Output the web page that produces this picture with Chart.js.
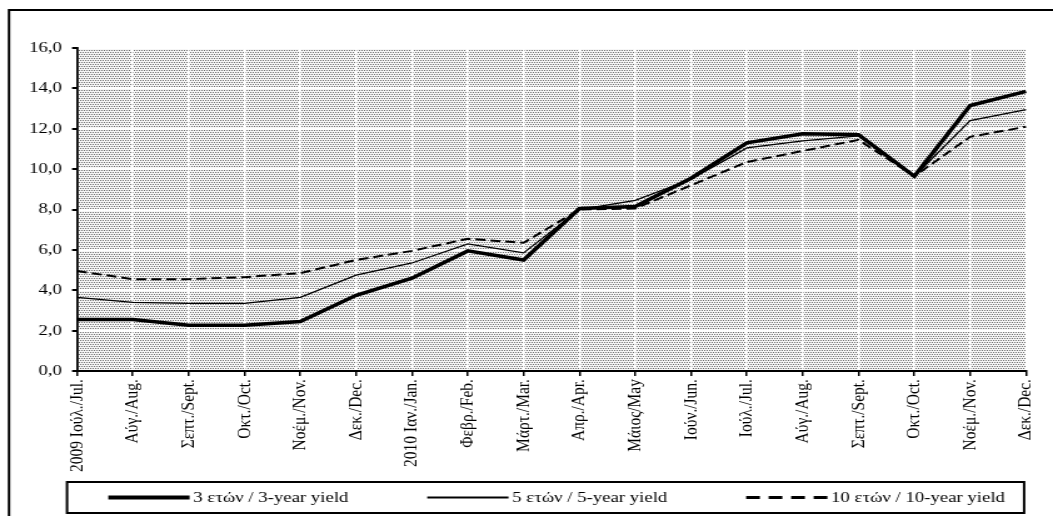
<!DOCTYPE html>
<html>
<head>
<meta charset="utf-8">
<script src="https://cdn.jsdelivr.net/npm/chart.js@4.4.1/dist/chart.umd.min.js"></script>
<style>
    body { margin: 0; background: #fff; }
    #wrap { position: relative; width: 1053px; height: 516px; }
    /* canvas is drawn narrower and stretched, like the original export */
    #myChartCanvas1 { position: absolute; left: 0; top: 0; }
</style>
</head>
<body>
<div id="wrap">
    <canvas id="myChartCanvas1" width="842" height="516" style="width:1053px;height:516px"></canvas>
</div>
<script>
const meses = [
    '2009 Ιούλ./Jul.', 'Αύγ./Aug.', 'Σεπτ./Sept.', 'Οκτ./Oct.', 'Νοέμ./Nov.', 'Δεκ./Dec.',
    '2010 Ιαν./Jan.', 'Φεβρ./Feb.', 'Μάρτ./Mar.', 'Απρ./Apr.', 'Μάιος/May', 'Ιούν./Jun.',
    'Ιούλ./Jul.', 'Αύγ./Aug.', 'Σεπτ./Sept.', 'Οκτ./Oct.', 'Νοέμ./Nov.', 'Δεκ./Dec.'
];

const yield3 = [2.55, 2.55, 2.27, 2.27, 2.45, 3.75, 4.6, 5.95, 5.5, 8.05, 8.15, 9.55, 11.3, 11.75, 11.7, 9.65, 13.15, 13.85];
const yield5 = [3.65, 3.4, 3.35, 3.35, 3.65, 4.75, 5.35, 6.3, 5.85, 8.0, 8.45, 9.5, 11.05, 11.4, 11.65, 9.65, 12.4, 12.95];
const yield10 = [4.95, 4.55, 4.55, 4.65, 4.85, 5.5, 5.95, 6.55, 6.35, 8.0, 8.05, 9.2, 10.35, 10.9, 11.45, 9.65, 11.6, 12.1];

const nomes = ['3 ετών / 3-year yield', '5 ετών / 5-year yield', '10 ετών / 10-year yield'];

const yMin = 0;
const yMax = 16;
const yStep = 2;

const fonte = '"Liberation Serif", "Times New Roman", serif';

function criarPadrao() {
    // fundo pontilhado cinza da área do gráfico
    const c = document.createElement('canvas');
    c.width = 4;
    c.height = 4;
    const g = c.getContext('2d');
    g.fillStyle = '#f6f6f6';
    g.fillRect(0, 0, 4, 4);
    g.fillStyle = '#6e6e6e';
    g.fillRect(0, 0, 1, 1);
    g.fillRect(2, 0, 1, 1);
    g.fillRect(1, 2, 1, 1);
    g.fillRect(3, 2, 1, 1);
    return c;
}

const fundoPlugin = {
    id: 'fundo',
    beforeDraw(chart) {
        const ctx = chart.ctx;
        const a = chart.chartArea;
        ctx.save();
        ctx.fillStyle = ctx.createPattern(criarPadrao(), 'repeat');
        ctx.fillRect(a.left, a.top, a.right - a.left, a.bottom - a.top);
        // moldura externa (só topo e esquerda aparecem)
        ctx.strokeStyle = '#000';
        ctx.lineWidth = 2;
        ctx.beginPath();
        ctx.moveTo(chart.width, 10);
        ctx.lineTo(7.2, 10);
        ctx.lineTo(7.2, chart.height);
        ctx.stroke();
        ctx.restore();
    }
};

const legendaPlugin = {
    id: 'legendaCaixa',
    afterDraw(chart) {
        const ctx = chart.ctx;
        const a = chart.chartArea;
        const esq = a.left - 8;
        const dir = a.right - 1.5;
        const topo = 482;
        const base = 513;
        const meio = (topo + base) / 2;
        ctx.save();
        ctx.strokeStyle = '#000';
        ctx.lineWidth = 2;
        ctx.strokeRect(esq, topo, dir - esq, base - topo);

        ctx.font = '15px ' + fonte;
        ctx.textBaseline = 'middle';
        ctx.fillStyle = '#000';
        chart.data.datasets.forEach((ds, i) => {
            const x0 = esq + 33 + i * 255;
            ctx.beginPath();
            ctx.lineWidth = ds.legendWidth;
            ctx.setLineDash(ds.legendDash);
            ctx.moveTo(x0, meio);
            ctx.lineTo(x0 + 65, meio);
            ctx.stroke();
            ctx.setLineDash([]);
            ctx.fillText(ds.label, x0 + 68, meio + 1);
        });
        ctx.restore();
    }
};

function graficoRendimentos(idGrafico) {
    const dados = {
        labels: meses,
        datasets: [{
            label: nomes[0],
            data: yield3,
            borderColor: '#000',
            borderWidth: 3.5,
            legendWidth: 4,
            legendDash: []
        }, {
            label: nomes[1],
            data: yield5,
            borderColor: '#000',
            borderWidth: 1.3,
            legendWidth: 1.8,
            legendDash: []
        }, {
            label: nomes[2],
            data: yield10,
            borderColor: '#000',
            borderWidth: 2,
            borderDash: [8, 4],
            legendWidth: 3,
            legendDash: [11, 7]
        }]
    };

    const config = {
        type: 'line',
        data: dados,
        options: {
            responsive: false,
            devicePixelRatio: 1,
            animation: false,
            layout: {
                padding: { left: 0, right: 9, top: 48, bottom: 35 }
            },
            elements: {
                point: { radius: 0 },
                line: { tension: 0, fill: false }
            },
            scales: {
                x: {
                    offset: false,
                    grid: {
                        color: '#fff',
                        lineWidth: 1.5,
                        tickColor: '#000',
                        tickLength: 5,
                        tickWidth: 1.5
                    },
                    border: { display: true, color: '#000', width: 2 },
                    ticks: {
                        autoSkip: false,
                        maxRotation: 90,
                        minRotation: 90,
                        padding: 3,
                        color: '#000',
                        font: { family: fonte, size: 15.5 }
                    },
                    afterFit(scale) {
                        scale.height = 110;
                    }
                },
                y: {
                    min: yMin,
                    max: yMax,
                    grid: {
                        color: '#fff',
                        lineWidth: 2,
                        tickColor: '#000',
                        tickLength: 4,
                        tickWidth: 2
                    },
                    border: { display: true, color: '#000', width: 1.8 },
                    ticks: {
                        stepSize: yStep,
                        padding: 8,
                        color: '#000',
                        font: { family: fonte, size: 15 },
                        callback: (v) => v.toFixed(1).replace('.', ',')
                    },
                    afterFit(scale) {
                        scale.width = 61.6;
                    }
                }
            },
            plugins: {
                legend: { display: false },
                tooltip: { enabled: false }
            }
        },
        plugins: [fundoPlugin, legendaPlugin]
    };

    new Chart(
        document.getElementById(`myChartCanvas${idGrafico}`),
        config
    );
}

graficoRendimentos(1);
</script>
</body>
</html>
